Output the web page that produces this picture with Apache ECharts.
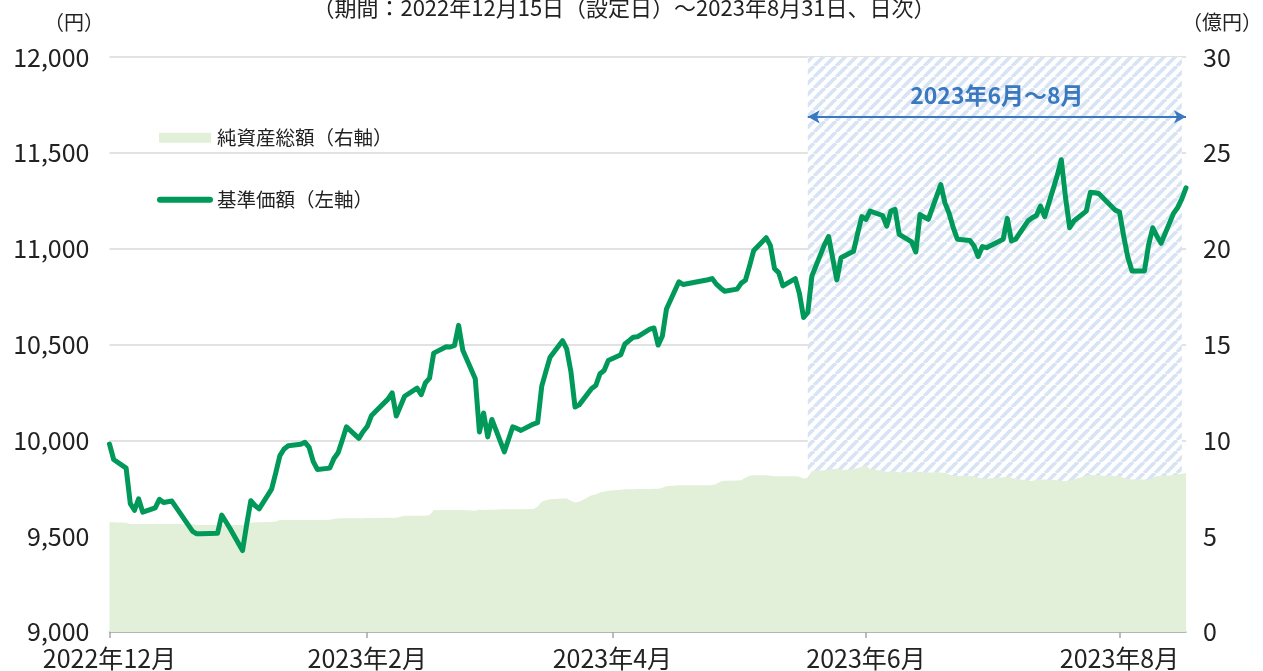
<!DOCTYPE html>
<html><head><meta charset="utf-8">
<script src="https://cdn.jsdelivr.net/npm/echarts@6/dist/echarts.min.js"></script>
<style>html,body{margin:0;padding:0;background:#fff}#c{width:1263px;height:671px}</style>
</head><body><div id="c"></div>
<script>
// Business days (categories)
const dates = [
'2022-12-15','2022-12-16','2022-12-19','2022-12-20','2022-12-21','2022-12-22','2022-12-23','2022-12-26','2022-12-27','2022-12-28','2022-12-29','2022-12-30',
'2023-01-04','2023-01-05','2023-01-06','2023-01-10','2023-01-11','2023-01-12','2023-01-13','2023-01-16','2023-01-17','2023-01-18','2023-01-19','2023-01-20','2023-01-23','2023-01-24','2023-01-25','2023-01-26','2023-01-27','2023-01-30','2023-01-31',
'2023-02-01','2023-02-02','2023-02-03','2023-02-06','2023-02-07','2023-02-08','2023-02-09','2023-02-10','2023-02-13','2023-02-14','2023-02-15','2023-02-16','2023-02-17','2023-02-20','2023-02-21','2023-02-22','2023-02-24','2023-02-27','2023-02-28',
'2023-03-01','2023-03-02','2023-03-03','2023-03-06','2023-03-07','2023-03-08','2023-03-09','2023-03-10','2023-03-13','2023-03-14','2023-03-15','2023-03-16','2023-03-17','2023-03-20','2023-03-22','2023-03-23','2023-03-24','2023-03-27','2023-03-28','2023-03-29','2023-03-30','2023-03-31',
'2023-04-03','2023-04-04','2023-04-05','2023-04-06','2023-04-07','2023-04-10','2023-04-11','2023-04-12','2023-04-13','2023-04-14','2023-04-17','2023-04-18','2023-04-19','2023-04-20','2023-04-21','2023-04-24','2023-04-25','2023-04-26','2023-04-27','2023-04-28',
'2023-05-01','2023-05-02','2023-05-08','2023-05-09','2023-05-10','2023-05-11','2023-05-12','2023-05-15','2023-05-16','2023-05-17','2023-05-18','2023-05-19','2023-05-22','2023-05-23','2023-05-24','2023-05-25','2023-05-26','2023-05-29','2023-05-30','2023-05-31',
'2023-06-01','2023-06-02','2023-06-05','2023-06-06','2023-06-07','2023-06-08','2023-06-09','2023-06-12','2023-06-13','2023-06-14','2023-06-15','2023-06-16','2023-06-19','2023-06-20','2023-06-21','2023-06-22','2023-06-23','2023-06-26','2023-06-27','2023-06-28','2023-06-29','2023-06-30',
'2023-07-03','2023-07-04','2023-07-05','2023-07-06','2023-07-07','2023-07-10','2023-07-11','2023-07-12','2023-07-13','2023-07-14','2023-07-18','2023-07-19','2023-07-20','2023-07-21','2023-07-24','2023-07-25','2023-07-26','2023-07-27','2023-07-28','2023-07-31',
'2023-08-01','2023-08-02','2023-08-03','2023-08-04','2023-08-07','2023-08-08','2023-08-09','2023-08-10','2023-08-14','2023-08-15','2023-08-16','2023-08-17','2023-08-18','2023-08-21','2023-08-22','2023-08-23','2023-08-24','2023-08-25','2023-08-28','2023-08-29','2023-08-30','2023-08-31'
];
// 基準価額（円）
const nav = [
9980,9900,9855,9670,9635,9695,9625,9648,9692,9676,9680,9683,
9525,9512,9512,9515,9610,9575,9540,9425,9560,9685,9660,9642,9745,9830,9920,9955,9972,9979,9990,
9965,9890,9848,9855,9905,9935,10000,10070,10010,10045,10072,10128,10150,10215,10248,10127,10230,10272,10238,
10300,10325,10455,10488,10487,10495,10600,10470,10321,10044,10143,10018,10109,9940,10070,10062,10052,10085,10092,10283,10360,10434,
10520,10477,10360,10174,10185,10270,10286,10347,10364,10416,10446,10503,10520,10538,10540,10580,10586,10497,10543,10685,
10827,10813,10838,10844,10815,10795,10778,10789,10820,10835,10910,10991,11057,11017,10896,10875,10806,10844,10765,10641,
10667,10858,11020,11063,10950,10837,10953,10986,11080,11167,11153,11196,11173,11118,11196,11205,11075,11035,10983,11178,11165,11153,
11334,11239,11185,11110,11049,11043,11014,10959,11011,11005,11049,11158,11040,11049,11145,11161,11173,11222,11167,11380,
11464,11270,11109,11144,11196,11294,11292,11288,11201,11191,11066,10955,10884,10884,11020,11109,11065,11028,11184,11215,11260,11317
];
// 純資産総額（億円）
const netAssets = [
5.72,5.72,5.70,5.64,5.63,5.63,5.63,5.63,5.64,5.64,5.64,5.64,
5.62,5.58,5.58,5.58,5.58,5.58,5.58,5.58,5.62,5.70,5.72,5.72,5.74,5.76,5.84,5.84,5.84,5.84,5.84,
5.84,5.84,5.84,5.86,5.90,5.92,5.93,5.93,5.93,5.93,5.95,5.95,5.95,5.96,5.95,5.96,6.06,6.07,6.07,
6.07,6.10,6.35,6.37,6.37,6.37,6.36,6.36,6.33,6.38,6.36,6.38,6.38,6.40,6.40,6.41,6.41,6.42,6.55,6.80,6.88,6.92,
6.97,6.96,6.85,6.76,6.80,7.14,7.18,7.28,7.33,7.37,7.42,7.45,7.45,7.45,7.46,7.46,7.47,7.48,7.52,7.60,
7.66,7.66,7.66,7.67,7.72,7.85,7.89,7.90,7.92,8.05,8.15,8.18,8.18,8.15,8.13,8.13,8.13,8.13,8.10,8.00,
8.05,8.40,8.44,8.46,8.50,8.52,8.45,8.48,8.55,8.62,8.68,8.50,8.40,8.36,8.38,8.36,8.34,8.33,8.33,8.35,8.34,8.32,
8.32,8.30,8.22,8.15,8.14,8.14,8.12,8.05,8.02,8.00,8.08,8.10,8.05,8.00,7.90,7.88,7.95,7.95,7.95,7.92,
7.88,7.88,7.90,7.95,8.15,8.20,8.18,8.15,8.14,8.12,8.05,7.98,7.95,7.95,7.96,8.05,8.14,8.14,8.18,8.22,8.26,8.30
];
const xTickDates = ['2022-12-15','2023-02-15','2023-04-15','2023-06-15','2023-08-15'];
const periodStart = '2022-12-15', periodEnd = '2023-08-31';
const highlightRange = ['2023-06-01','2023-08-30'];
const highlightLabel = '2023年6月～8月';
const arrowLevel = 11688;
const subtitle = '（期間：2022年12月15日（設定日）～2023年8月31日、日次）';

function ts(s){ const p = s.split('-').map(Number); return new Date(p[0], p[1]-1, p[2]).getTime(); }
const FONT = "'Noto Sans CJK JP','Noto Sans',sans-serif";
const TXT = '#222';
const GREEN = '#00995a', AREA = '#e2efd9', BLUE = '#3a78c0';

// hatch pattern
const pc = document.createElement('canvas');
const S = 11; pc.width = S; pc.height = S;
const pctx = pc.getContext('2d');
pctx.fillStyle = '#ffffff'; pctx.fillRect(0,0,S,S);
pctx.strokeStyle = '#d8e4f4'; pctx.lineWidth = 3.7;
[-S, 0, S].forEach(k => { pctx.beginPath(); pctx.moveTo(k, S); pctx.lineTo(k + S, 0); pctx.stroke(); });

const chart = echarts.init(document.getElementById('c'), null, {renderer: 'canvas'});
const tickTs = xTickDates.map(ts);
chart.setOption({
  animation: false,
  textStyle: {fontFamily: FONT},
  grid: {left: 109.5, right: 77, top: 57, bottom: 37, containLabel: false},
  graphic: [
    {type: 'text', x: 624, y: 8, style: {text: subtitle, fontSize: 22, fontFamily: FONT, fill: TXT, align: 'center', verticalAlign: 'middle'}},
    {type: 'text', x: 74, y: 22, style: {text: '（円）', fontSize: 20, fontFamily: FONT, fill: TXT, align: 'center', verticalAlign: 'middle'}},
    {type: 'text', x: 1222, y: 22, style: {text: '（億円）', fontSize: 20, fontFamily: FONT, fill: TXT, align: 'center', verticalAlign: 'middle'}}
  ],
  legend: [
    {left: 154, top: 123, itemWidth: 52, itemHeight: 10, itemGap: 0, selectedMode: false,
     data: [{name: '純資産総額（右軸）', icon: 'rect'}],
     textStyle: {fontSize: 19.5, color: TXT, fontFamily: FONT, padding: [0,0,0,1]}},
    {left: 152, top: 185, itemWidth: 56, itemHeight: 6, itemGap: 0, selectedMode: false,
     data: [{name: '基準価額（左軸）', icon: 'path://M3,0H53A3,3,0,0,1,53,6H3A3,3,0,0,1,3,0Z'}],
     textStyle: {fontSize: 19.5, color: TXT, fontFamily: FONT, padding: [0,0,0,-1]}}
  ],
  xAxis: {
    type: 'value', min: ts(periodStart), max: ts(periodEnd),
    axisLine: {show: true, lineStyle: {color: '#a6a6a6', width: 1.5}},
    axisTick: {show: true, customValues: tickTs, length: 6, lineStyle: {color: '#a6a6a6', width: 1.5}},
    axisLabel: {customValues: tickTs, margin: 14, fontSize: 25, color: TXT, fontFamily: FONT,
      formatter: v => { const d = new Date(v); return d.getFullYear() + '年' + (d.getMonth()+1) + '月'; }},
    splitLine: {show: false}
  },
  yAxis: [
    {type: 'value', min: 9000, max: 12000, interval: 500,
     axisLine: {show: false}, axisTick: {show: false},
     splitLine: {show: true, lineStyle: {color: '#d9d9d9', width: 1.5}},
     axisLabel: {margin: 20, fontSize: 25, color: TXT, fontFamily: FONT,
       formatter: v => String(v).replace(/\B(?=(\d{3})+(?!\d))/g, ',')}},
    {type: 'value', min: 0, max: 30, interval: 5,
     axisLine: {show: false}, axisTick: {show: false}, splitLine: {show: false},
     axisLabel: {margin: 17, fontSize: 25, color: TXT, fontFamily: FONT}}
  ],
  series: [
    {name: '純資産総額（右軸）', type: 'line', yAxisIndex: 1, symbol: 'none', silent: true,
     color: AREA, itemStyle: {color: AREA},
     lineStyle: {width: 0, color: AREA}, areaStyle: {color: AREA, opacity: 1}, z: 2,
     data: dates.map((d, i) => [ts(d), netAssets[i]]),
     markArea: {silent: true, z: 1, itemStyle: {color: {image: pc, repeat: 'repeat'}},
       data: [[{xAxis: ts(highlightRange[0])}, {xAxis: ts(highlightRange[1])}]]}
    },
    {name: '基準価額（左軸）', type: 'line', yAxisIndex: 0, symbol: 'none', silent: true,
     color: GREEN, itemStyle: {color: GREEN},
     lineStyle: {width: 5, color: GREEN, join: 'round', cap: 'round'}, z: 3,
     data: dates.map((d, i) => [ts(d), nav[i]]),
     markLine: {silent: true, symbol: ['arrow', 'arrow'], symbolSize: [10, 12],
       lineStyle: {color: BLUE, width: 2, type: 'solid'},
       label: {show: true, position: 'insideMiddleTop', distance: 10, formatter: highlightLabel,
         color: BLUE, fontSize: 23, fontWeight: 'bold', fontFamily: FONT},
       data: [[{coord: [ts(highlightRange[0]), arrowLevel]}, {coord: [ts(periodEnd), arrowLevel]}]]}
    }
  ]
});
</script></body></html>
